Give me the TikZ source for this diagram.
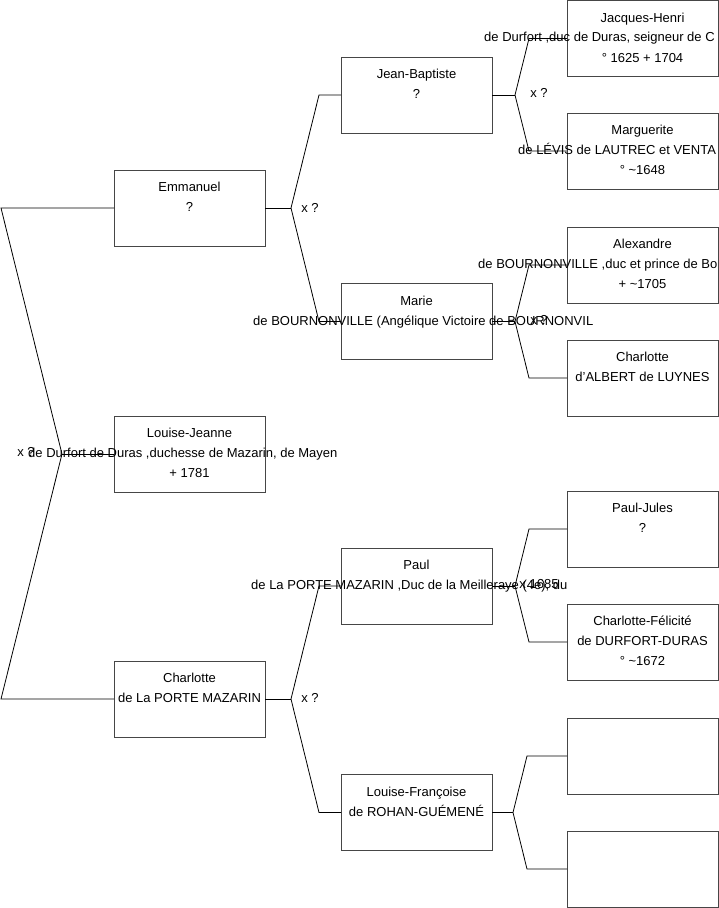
\documentclass[tikz,border=0pt]{standalone}
\usepackage{fontspec}
\setmainfont{Liberation Sans}
\definecolor{boxgray}{RGB}{70,70,70}
\begin{document}
\begin{tikzpicture}[x=1pt,y=-1pt,
  pbox/.style={draw=boxgray, line width=1pt, minimum width=151pt, minimum height=76pt, inner sep=0pt, outer sep=0pt},
  txt/.style={font=\fontsize{13}{20}\selectfont, inner sep=0pt, anchor=base},
  wtxt/.style={txt, anchor=base west},
  link/.style={draw=black, line width=0.8pt},
  lbl/.style={font=\fontsize{13}{15}\selectfont, inner sep=0pt}]
\useasboundingbox[fill=white] (0,0) rectangle (719,908);

% boxes
\node[pbox] (emm) at (189.5,208) {};
\node[pbox] (lj) at (189.5,454) {};
\node[pbox] (cha) at (189.5,699) {};
\node[pbox] (jb) at (416.5,95) {};
\node[pbox] (mar) at (416.5,321.5) {};
\node[pbox] (paul) at (416.5,586) {};
\node[pbox] (lf) at (416.5,812.5) {};
\node[pbox] (jh) at (642.5,38.5) {};
\node[pbox] (mg) at (642.5,151) {};
\node[pbox] (alx) at (642.5,265) {};
\node[pbox] (cal) at (642.5,378) {};
\node[pbox] (pj) at (642.5,529) {};
\node[pbox] (cf) at (642.5,642) {};
\node[pbox] (ea) at (642.5,756) {};
\node[pbox] (eb) at (642.5,869) {};

% connectors: root fork
\coordinate (f0) at (62,454);
\path (emm.west) ++(-113,0) coordinate (f0a);
\path (cha.west) ++(-113,0) coordinate (f0b);
\draw[link] (lj.west) -- (f0);
\draw[link] (f0) -- (f0a) -- (emm.west);
\draw[link] (f0) -- (f0b) -- (cha.west);

% column 1 forks
\path (emm.east) ++(26,0) coordinate (f1);
\path (jb.west) ++(-22,0) coordinate (jbin);
\path (mar.west) ++(-22,0) coordinate (marin);
\draw[link] (emm.east) -- (f1);
\draw[link] (f1) -- (jbin) -- (jb.west);
\draw[link] (f1) -- (marin) -- (mar.west);

\path (cha.east) ++(26,0) coordinate (f2);
\path (paul.west) ++(-22,0) coordinate (paulin);
\path (lf.west) ++(-22,0) coordinate (lfin);
\draw[link] (cha.east) -- (f2);
\draw[link] (f2) -- (paulin) -- (paul.west);
\draw[link] (f2) -- (lfin) -- (lf.west);

% column 2 forks
\path (jb.east) ++(23,0) coordinate (f3);
\path (jh.west) ++(-38,0) coordinate (jhin);
\path (mg.west) ++(-38,0) coordinate (mgin);
\draw[link] (jb.east) -- (f3);
\draw[link] (f3) -- (jhin) -- (jh.west);
\draw[link] (f3) -- (mgin) -- (mg.west);

\path (mar.east) ++(23,0) coordinate (f4);
\path (alx.west) ++(-38,0) coordinate (alxin);
\path (cal.west) ++(-38,0) coordinate (calin);
\draw[link] (mar.east) -- (f4);
\draw[link] (f4) -- (alxin) -- (alx.west);
\draw[link] (f4) -- (calin) -- (cal.west);

\path (paul.east) ++(23,0) coordinate (f5);
\path (pj.west) ++(-38,0) coordinate (pjin);
\path (cf.west) ++(-38,0) coordinate (cfin);
\draw[link] (paul.east) -- (f5);
\draw[link] (f5) -- (pjin) -- (pj.west);
\draw[link] (f5) -- (cfin) -- (cf.west);

\path (lf.east) ++(21,0) coordinate (f6);
\path (ea.west) ++(-40,0) coordinate (eain);
\path (eb.west) ++(-40,0) coordinate (ebin);
\draw[link] (lf.east) -- (f6);
\draw[link] (f6) -- (eain) -- (ea.west);
\draw[link] (f6) -- (ebin) -- (eb.west);

% marriage labels
\node[lbl] (m0) at (26,452) {x ?};
\node[lbl] (m1) at (310,208) {x ?};
\node[lbl] (m2) at (310,698) {x ?};
\node[lbl] (m3) at (539,93) {x ?};
\node[lbl] (m4) at (539,320) {x ?};
\node[lbl] (m5) at (539,584) {x 1685};

% texts
\node[txt] (emm-a) at ([yshift=16.5pt]emm.center) {Emmanuel};
\node[txt] (emm-b) at ([yshift=-3.5pt]emm.center) {?};

\node[txt] (lj-a) at ([yshift=16.5pt]lj.center) {Louise-Jeanne};
\node[wtxt] (lj-b) at (28,457.5) {de Durfort de Duras ,duchesse de Mazarin, de Mayen};
\node[txt] (lj-c) at ([yshift=-23.5pt]lj.center) {+ 1781};

\node[txt] (cha-a) at ([yshift=16.5pt]cha.center) {Charlotte};
\node[txt] (cha-b) at ([yshift=-3.5pt]cha.center) {de La PORTE MAZARIN};

\node[txt] (jb-a) at ([yshift=16.5pt]jb.center) {Jean-Baptiste};
\node[txt] (jb-b) at ([yshift=-3.5pt]jb.center) {?};

\node[txt] (mar-a) at ([yshift=16.5pt]mar.center) {Marie};
\node[wtxt] (mar-b) at (253,325) {de BOURNONVILLE (Angélique Victoire de BOURNONVIL};

\node[txt] (paul-a) at ([yshift=16.5pt]paul.center) {Paul};
\node[wtxt] (paul-b) at (251,589.5) {de La PORTE MAZARIN ,Duc de la Meilleraye (4e), du};

\node[txt] (lf-a) at ([yshift=16.5pt]lf.center) {Louise-Françoise};
\node[txt] (lf-b) at ([yshift=-3.5pt]lf.center) {de ROHAN-GUÉMENÉ};

\node[txt] (jh-a) at ([yshift=16.5pt]jh.center) {Jacques-Henri};
\node[wtxt] (jh-b) at (484,41.5) {de Durfort ,duc de Duras, seigneur de C};
\node[txt] (jh-c) at ([yshift=-23.5pt]jh.center) {° 1625 + 1704};

\node[txt] (mg-a) at ([yshift=16.5pt]mg.center) {Marguerite};
\node[wtxt] (mg-b) at (518,154.5) {de LÉVIS de LAUTREC et VENTA};
\node[txt] (mg-c) at ([yshift=-23.5pt]mg.center) {° \textasciitilde1648};

\node[txt] (alx-a) at ([yshift=16.5pt]alx.center) {Alexandre};
\node[wtxt] (alx-b) at (478,268.5) {de BOURNONVILLE ,duc et prince de Bo};
\node[txt] (alx-c) at ([yshift=-23.5pt]alx.center) {+ \textasciitilde1705};

\node[txt] (cal-a) at ([yshift=16.5pt]cal.center) {Charlotte};
\node[txt] (cal-b) at ([yshift=-3.5pt]cal.center) {d'ALBERT de LUYNES};

\node[txt] (pj-a) at ([yshift=16.5pt]pj.center) {Paul-Jules};
\node[txt] (pj-b) at ([yshift=-3.5pt]pj.center) {?};

\node[txt] (cf-a) at ([yshift=16.5pt]cf.center) {Charlotte-Félicité};
\node[txt] (cf-b) at ([yshift=-3.5pt]cf.center) {de DURFORT-DURAS};
\node[txt] (cf-c) at ([yshift=-23.5pt]cf.center) {° \textasciitilde1672};
\end{tikzpicture}
\end{document}
